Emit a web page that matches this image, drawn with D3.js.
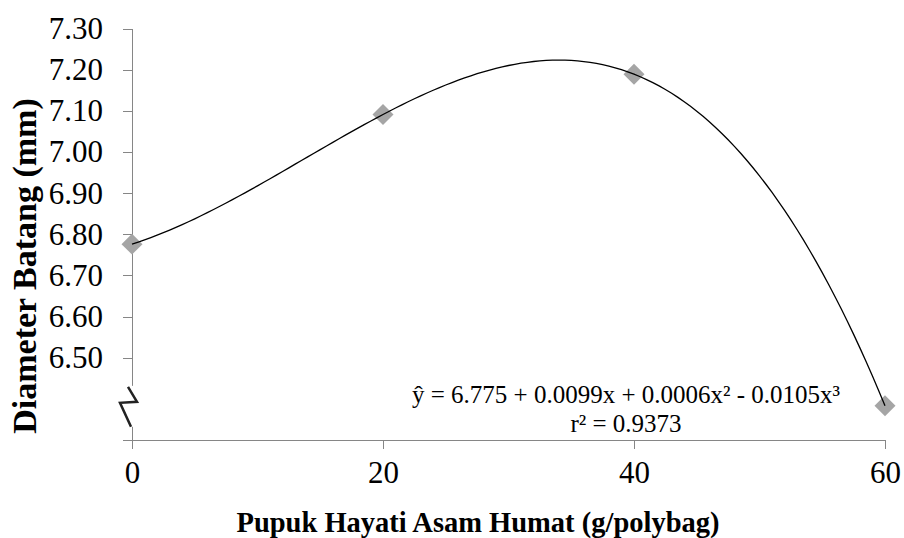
<!DOCTYPE html>
<meta charset="utf-8">
<script src="https://cdn.jsdelivr.net/npm/d3@7"></script>
<style>
body { margin: 0; background: #fff; }
text { font-family: "Liberation Serif", "Times New Roman", serif; fill: #000; }
.axis path, .axis line { stroke: #868686; stroke-width: 1px; shape-rendering: crispEdges; }
.axis text { font-size: 31px; }
.xtitle { font-size: 28.5px; font-weight: bold; }
.ytitle { font-size: 34px; font-weight: bold; }
.eq { font-size: 25px; }
</style>
<body>
<script>
// data
var doses = [0, 20, 40, 60];
var diameter = [6.776, 7.091, 7.189, 6.383];
var yTicks = [6.3, 6.4, 6.5, 6.6, 6.7, 6.8, 6.9, 7.0, 7.1, 7.2, 7.3];
var xTicks = [0, 20, 40, 60];
var eqLines = ["ŷ = 6.775 + 0.0099x + 0.0006x² - 0.0105x³", "r² = 0.9373"];

var width = 904, height = 538;
var margin = {left: 132, right: 19, top: 28.5, bottom: 98};

var svg = d3.select("body").append("svg")
    .attr("width", width)
    .attr("height", height);

var x = d3.scaleLinear().domain([0, 60]).range([margin.left, width - margin.right]);
var y = d3.scaleLinear().domain([6.3, 7.3]).range([height - margin.bottom, margin.top]);

// y axis
var yAxis = svg.append("g")
    .attr("class", "axis")
    .attr("transform", "translate(" + margin.left + ",0)")
    .call(d3.axisLeft(y).tickValues(yTicks).tickSize(9).tickPadding(20).tickFormat(d3.format(".2f")));
yAxis.select(".domain").attr("d", "M0," + y(7.3) + "V" + (y(6.3) + 9));
yAxis.selectAll(".tick text").filter(function(d) { return d < 6.45; }).remove();

// x axis
var xAxis = svg.append("g")
    .attr("class", "axis")
    .attr("transform", "translate(0," + y(6.3) + ")")
    .call(d3.axisBottom(x).tickValues(xTicks).tickSize(9).tickPadding(12));
xAxis.select(".domain").attr("d", "M" + (margin.left - 9) + ",0H" + x(60));

// axis break
var bx = x(0), by = y(6.4);
svg.append("rect")
    .attr("x", bx - 23).attr("y", by - 13)
    .attr("width", 30).attr("height", 41)
    .attr("fill", "#fff");
svg.append("path")
    .attr("d", "M" + (bx - 4) + "," + (by - 12) + "L" + (bx + 5) + "," + (by + 3) +
               "L" + (bx - 12) + "," + (by + 4) + "L" + (bx - 1) + "," + (by + 28))
    .attr("fill", "none")
    .attr("stroke", "#222")
    .attr("stroke-width", 2.5);

// markers
svg.append("g").selectAll("path")
    .data(doses)
  .enter().append("path")
    .attr("d", d3.symbol().type(d3.symbolSquare).size(220))
    .attr("transform", function(d, i) { return "translate(" + x(d) + "," + y(diameter[i]) + ") rotate(45)"; })
    .attr("fill", "#a5a5a5");

// cubic trend line (least squares)
function polyfit(xs, ys, deg) {
  var n = deg + 1, A = [], b = [];
  for (var r = 0; r < n; r++) {
    A.push([]);
    b.push(d3.sum(xs, function(v, i) { return ys[i] * Math.pow(v, r); }));
    for (var c = 0; c < n; c++) A[r].push(d3.sum(xs, function(v) { return Math.pow(v, r + c); }));
  }
  for (var k = 0; k < n; k++) {
    var p = k;
    for (var r2 = k + 1; r2 < n; r2++) if (Math.abs(A[r2][k]) > Math.abs(A[p][k])) p = r2;
    var t = A[k]; A[k] = A[p]; A[p] = t; var tb = b[k]; b[k] = b[p]; b[p] = tb;
    for (var r3 = k + 1; r3 < n; r3++) {
      var f = A[r3][k] / A[k][k];
      for (var c2 = k; c2 < n; c2++) A[r3][c2] -= f * A[k][c2];
      b[r3] -= f * b[k];
    }
  }
  var coef = new Array(n);
  for (var i = n - 1; i >= 0; i--) {
    var s = b[i];
    for (var j = i + 1; j < n; j++) s -= A[i][j] * coef[j];
    coef[i] = s / A[i][i];
  }
  return coef;
}
var tx = doses.map(function(d) { return d / 20; });
var coef = polyfit(tx, diameter, 3);
var curve = d3.range(0, 60.01, 0.5).map(function(d) {
  var t = d / 20;
  return [d, coef[0] + coef[1] * t + coef[2] * t * t + coef[3] * t * t * t];
});
svg.append("path")
    .datum(curve)
    .attr("fill", "none")
    .attr("stroke", "#000")
    .attr("stroke-width", 1.3)
    .attr("d", d3.line().x(function(d) { return x(d[0]); }).y(function(d) { return y(d[1]); }));

// equation
svg.append("g").selectAll("text")
    .data(eqLines)
  .enter().append("text")
    .attr("class", "eq")
    .attr("x", 626)
    .attr("y", function(d, i) { return 403 + i * 29; })
    .attr("text-anchor", "middle")
    .text(function(d) { return d; });

// titles
svg.append("text")
    .attr("class", "xtitle")
    .attr("x", 478).attr("y", 532)
    .attr("text-anchor", "middle")
    .text("Pupuk Hayati Asam Humat (g/polybag)");

svg.append("text")
    .attr("class", "ytitle")
    .attr("transform", "translate(36,266) rotate(-90)")
    .attr("text-anchor", "middle")
    .text("Diameter Batang (mm)");
</script>
</body>
</html>
